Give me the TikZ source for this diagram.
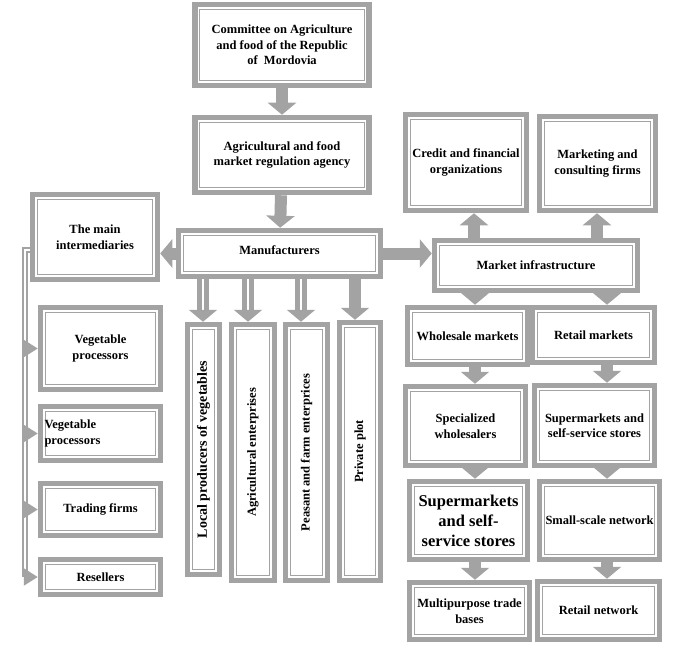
\documentclass[tikz,border=0pt]{standalone}
\usepackage{fontspec}
\setmainfont{Liberation Serif}
\usepackage{graphicx}
\usetikzlibrary{arrows.meta}
\definecolor{boxgray}{RGB}{163,163,163}

\begin{document}
\begin{tikzpicture}[x=1pt,y=1pt,
  box/.style={draw=boxgray,line width=5.5pt,outer sep=2.75pt,inner sep=2pt,
    align=center,font=\bfseries\fontsize{12.5}{15.5}\selectfont,
    path picture={\draw[boxgray,line width=1pt]
      ([shift={(4.75pt,4.75pt)}]path picture bounding box.south west) rectangle
      ([shift={(-4.75pt,-4.75pt)}]path picture bounding box.north east);}},
  arr/.style={draw=boxgray,line width=12pt,-{Triangle[length=12pt,width=28pt]}},
  darr/.style={draw=boxgray,double=white,double distance=1.2pt,line width=5.4pt,
    -{Triangle[length=12pt,width=28pt]}},
  bus/.style={draw=boxgray,double=white,double distance=1.4pt,line width=2.2pt}]
  \useasboundingbox (0,0) rectangle (684,-652);
  % management
  \node[box,minimum width=174pt,minimum height=81pt] (comm) at (282,-45)
    {Committee on Agriculture\\and food of the Republic\\of~ Mordovia};
  \node[box,minimum width=174pt,minimum height=75pt] (agency) at (282,-155)
    {Agricultural and food\\market regulation agency};
  \node[box,minimum width=202pt,minimum height=46pt] (manuf) at (279.5,-253.5)
    {\raisebox{7pt}{Manufacturers}};
  \draw[arr] (comm) -- (agency);
  \draw[arr] (agency) -- (manuf);
  % intermediaries, left
  \node[box,minimum width=125pt,minimum height=85pt] (inter) at (95,-237)
    {The main\\intermediaries};
  \node[box,minimum width=120pt,minimum height=82pt] (veg1) at (100.5,-348.5)
    {Vegetable\\processors};
  \node[box,minimum width=120pt,minimum height=54pt,text width=112pt,align=left] (veg2) at (100.5,-433.5)
    {Vegetable\\processors};
  \node[box,minimum width=120pt,minimum height=52pt] (trade) at (100.5,-509.5)
    {Trading firms};
  \node[box,minimum width=120pt,minimum height=35pt] (resell) at (100.5,-577)
    {Resellers};
  \draw[arr] (manuf.west) -- (inter.east |- manuf.west);
  \coordinate (b) at (25,-250);
  \draw[bus] (inter.west |- b) -- (b) -- (b |- resell);
  \foreach \n in {veg1,veg2,trade,resell}
    \draw[bus,-{Triangle[length=14pt,width=17pt]}] (b |- \n) -- (\n.west);
  % producers
  \node[box,minimum width=32pt,minimum height=250pt,font=\bfseries\fontsize{14}{16}\selectfont] (local) at (203.5,-449.5)
    {\rotatebox{90}{Local producers of vegetables}};
  \node[box,minimum width=43pt,minimum height=256pt] (agri) at (253,-452.5)
    {\rotatebox{90}{Agricultural enterprises}};
  \node[box,minimum width=42pt,minimum height=256pt] (peas) at (306.5,-452.5)
    {\rotatebox{90}{Peasant and farm enterprices}};
  \node[box,minimum width=41pt,minimum height=258pt] (priv) at (360,-451.5)
    {\rotatebox{90}{Private plot}};
  \draw[darr] (manuf.south -| 203,0) -- (local.north -| 203,0);
  \draw[darr] (manuf.south -| 248,0) -- (agri.north -| 248,0);
  \draw[darr] (manuf.south -| 301,0) -- (peas.north -| 301,0);
  \draw[arr] (manuf.south -| 355,0) -- (priv.north -| 355,0);
  % market infrastructure
  \node[box,minimum width=203pt,minimum height=50pt] (infra) at (536,-265.5)
    {Market infrastructure};
  \node[box,minimum width=121pt,minimum height=96pt] (credit) at (466,-162.5)
    {Credit and financial\\organizations};
  \node[box,minimum width=116pt,minimum height=94pt] (mkt) at (597.5,-163.5)
    {Marketing and\\consulting firms};
  \draw[arr] (manuf.east) -- (infra.west |- manuf.east);
  \draw[arr] (infra.north -| 474,0) -- (credit.south -| 474,0);
  \draw[arr] (infra.north -| 597,0) -- (mkt.south -| 597,0);
  % wholesale column
  \node[box,minimum width=120pt,minimum height=57pt] (whole) at (467.5,-336)
    {Wholesale markets};
  \node[box,minimum width=120pt,minimum height=79pt] (spec) at (465.5,-426)
    {Specialized\\wholesalers};
  \node[box,minimum width=118pt,minimum height=78pt,font=\bfseries\fontsize{16.5}{20}\selectfont] (super2) at (468.5,-520.5)
    {Supermarkets\\and self-\\service stores};
  \node[box,minimum width=120pt,minimum height=57pt] (multi) at (469.5,-611)
    {Multipurpose trade\\bases};
  % retail column
  \node[box,minimum width=122pt,minimum height=55pt] (retail) at (593.5,-335)
    {Retail markets};
  \node[box,minimum width=120pt,minimum height=80pt] (super1) at (594.5,-425.5)
    {Supermarkets and\\self-service stores};
  \node[box,minimum width=120pt,minimum height=78pt] (small) at (599.5,-520.5)
    {Small-scale network};
  \node[box,minimum width=122pt,minimum height=58pt] (retnet) at (598.5,-610.5)
    {Retail network};
  \draw[arr] (infra.south -| 475,0) -- (whole.north -| 475,0);
  \draw[arr] (whole.south -| 475,0) -- (spec.north -| 475,0);
  \draw[arr] (spec.south -| 475,0) -- (super2.north -| 475,0);
  \draw[arr] (super2.south -| 475,0) -- (multi.north -| 475,0);
  \draw[arr] (infra.south -| 607,0) -- (retail.north -| 607,0);
  \draw[arr] (retail.south -| 607,0) -- (super1.north -| 607,0);
  \draw[arr] (super1.south -| 607,0) -- (small.north -| 607,0);
  \draw[arr] (small.south -| 607,0) -- (retnet.north -| 607,0);
\end{tikzpicture}
\end{document}
